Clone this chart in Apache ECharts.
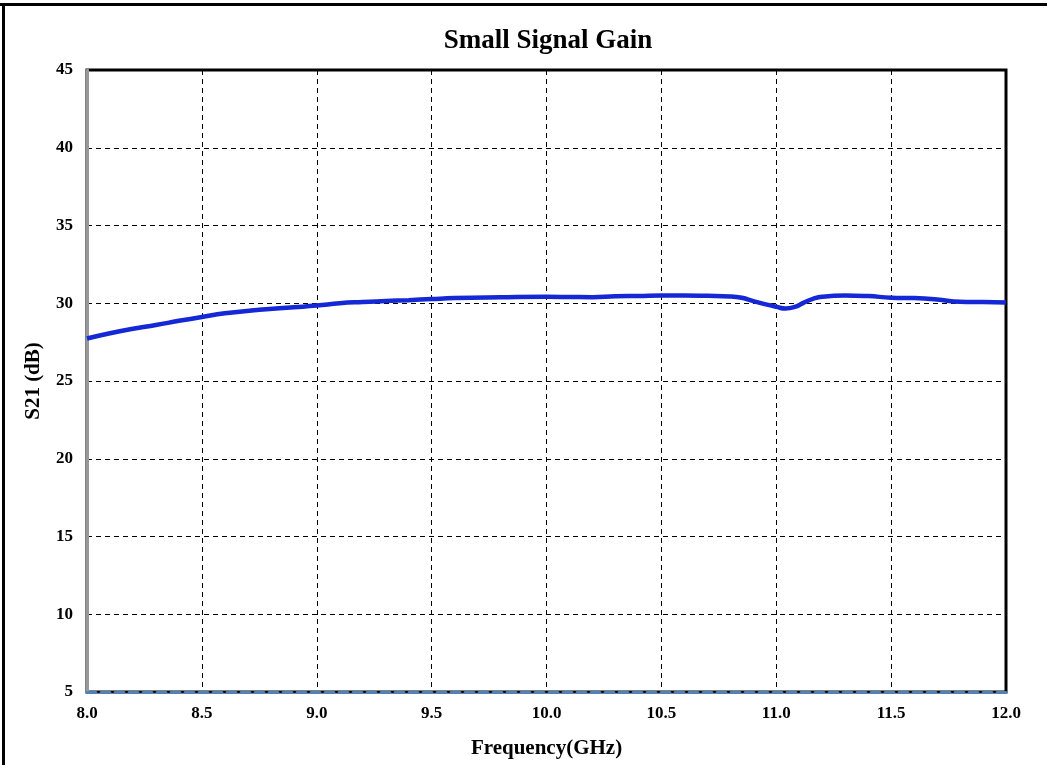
<!DOCTYPE html>
<html>
<head>
<meta charset="utf-8">
<script src="https://cdn.jsdelivr.net/npm/echarts@6/dist/echarts.min.js"></script>
<style>html,body{margin:0;padding:0;background:#fff;}#c{width:1047px;height:765px;}</style>
</head>
<body>
<div id="c"></div>
<script>
var freq = [8.0, 8.1, 8.2, 8.3, 8.4, 8.5, 8.6, 8.75, 8.9, 9.0, 9.1, 9.2, 9.3, 9.4, 9.5, 9.6, 9.8, 10.0, 10.1, 10.2, 10.3, 10.4, 10.5, 10.6, 10.7, 10.8, 10.85, 10.9, 10.95, 11.0, 11.04, 11.08, 11.12, 11.16, 11.2, 11.3, 11.4, 11.5, 11.6, 11.7, 11.8, 11.9, 12.0];
var gain = [27.73, 28.07, 28.36, 28.6, 28.87, 29.12, 29.35, 29.58, 29.74, 29.85, 30.0, 30.08, 30.14, 30.2, 30.27, 30.33, 30.38, 30.41, 30.4, 30.39, 30.45, 30.47, 30.5, 30.5, 30.48, 30.44, 30.35, 30.14, 29.94, 29.77, 29.66, 29.76, 30.04, 30.28, 30.42, 30.5, 30.46, 30.36, 30.33, 30.24, 30.1, 30.08, 30.05];
var xTicks = [8.0, 8.5, 9.0, 9.5, 10.0, 10.5, 11.0, 11.5, 12.0];
var yTicks = [5, 10, 15, 20, 25, 30, 35, 40, 45];

var font = '"Liberation Serif", "Times New Roman", serif';
var data = freq.map(function (f, i) { return [f, gain[i]]; });
var chart = echarts.init(document.getElementById('c'), null, {renderer: 'canvas'});
var labelStyle = {fontFamily: font, fontWeight: 'bold', fontSize: 17, color: '#000'};
chart.setOption({
  animation: false,
  title: {
    text: 'Small Signal Gain', left: 543, top: 23, textAlign: 'center',
    textStyle: {fontFamily: font, fontWeight: 'bold', fontSize: 27, color: '#000'}
  },
  grid: {left: 87, right: 41, top: 70, bottom: 73, show: true, borderColor: '#000', borderWidth: 3, backgroundColor: 'transparent'},
  graphic: [
    {type: 'line', shape: {x1: 0, y1: 4.5, x2: 1047, y2: 4.5}, style: {stroke: '#000', lineWidth: 3}, z: 100},
    {type: 'line', shape: {x1: 3.5, y1: 3, x2: 3.5, y2: 765}, style: {stroke: '#000', lineWidth: 3}, z: 100}
  ],
  xAxis: [
    {
      type: 'value', min: 8, max: 12, interval: 0.5, position: 'bottom',
      name: 'Frequency(GHz)', nameLocation: 'middle', nameGap: 46,
      nameTextStyle: {fontFamily: font, fontWeight: 'bold', fontSize: 21, color: '#000'},
      axisLine: {show: true, lineStyle: {color: '#4f81bd', width: 3, type: [9, 5]}},
      axisTick: {show: false},
      axisLabel: Object.assign({margin: 13, formatter: function (v) { return xTicks.indexOf(v) >= 0 ? v.toFixed(1) : ''; }}, labelStyle),
      splitLine: {show: true, lineStyle: {color: '#000', type: [5, 4], width: 1}}
    }
  ],
  yAxis: [
    {
      type: 'value', min: 5, max: 45, interval: 5, position: 'left',
      name: 'S21 (dB)', nameLocation: 'middle', nameGap: 43, nameRotate: 90,
      nameTextStyle: {fontFamily: font, fontWeight: 'bold', fontSize: 21, color: '#000'},
      axisLine: {show: true, lineStyle: {color: '#999', width: 3}},
      axisTick: {show: false},
      axisLabel: Object.assign({margin: 14, formatter: function (v) { return yTicks.indexOf(v) >= 0 ? String(v) : ''; }}, labelStyle),
      splitLine: {show: true, lineStyle: {color: '#000', type: [5, 4], width: 1}}
    }
  ],
  series: [{
    type: 'line', data: data, smooth: 0.5, showSymbol: false, symbol: 'none',
    lineStyle: {color: '#1428d6', width: 4.5}
  }]
});
</script>
</body>
</html>
